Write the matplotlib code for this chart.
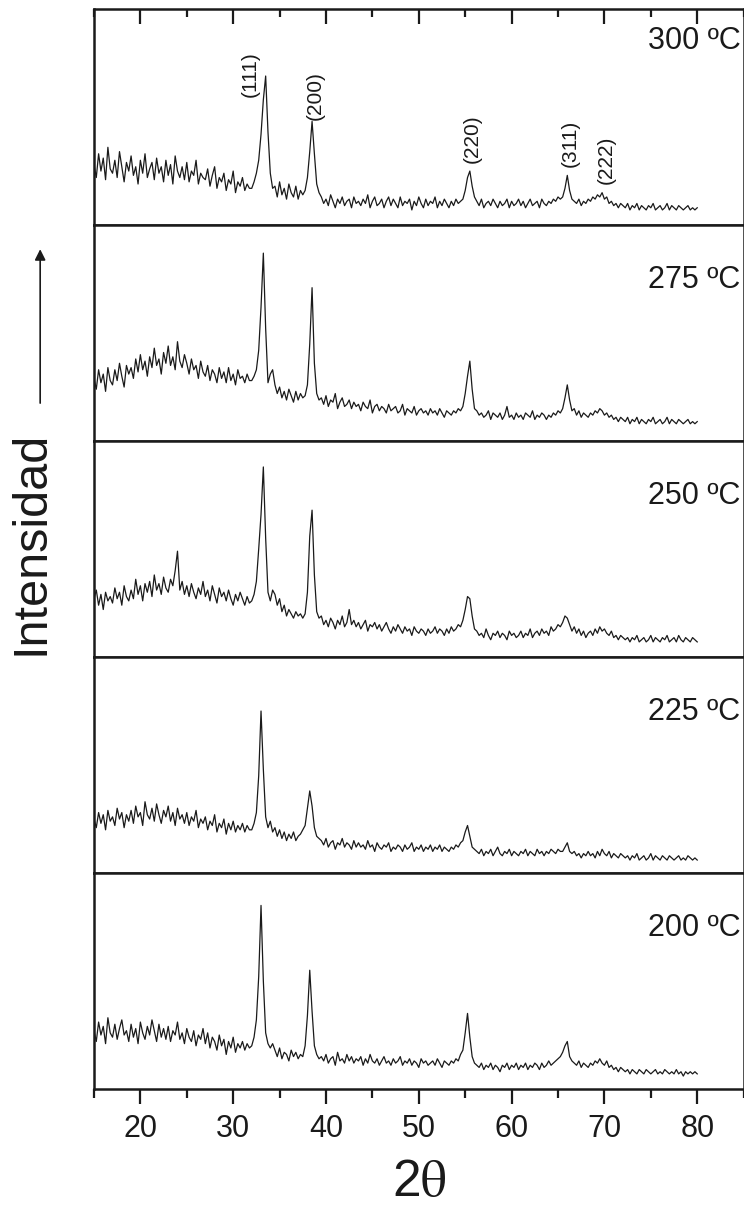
import numpy as np
import matplotlib.pyplot as plt
from matplotlib.patches import FancyArrowPatch
from matplotlib.ticker import MultipleLocator

plt.rcParams['font.family'] = ['Liberation Sans', 'DejaVu Sans']
plt.rcParams['mathtext.fontset'] = 'stix'

# 2-theta sampling grid (deg): 0.25 deg steps from 15 to 80
two_theta = np.linspace(15, 80, 261)

temps = ['300 ºC', '275 ºC', '250 ºC', '225 ºC', '200 ºC']

# Intensities as % of panel height:
# background 15-31.75 | (111) | 34.5-37.5 | (200) | 39.5-54.5 | (220) | 56.25-65.25 | (311) | 66.75-80
i_300 = ([28, 22, 33, 25, 31, 21, 36, 26, 24, 30, 22, 34, 27, 20, 29, 25,
          32, 23, 27, 19, 30, 24, 33, 22, 26, 29, 21, 31, 24, 27, 20, 30,
          23, 28, 19, 32, 25, 22, 27, 21, 29, 20, 25, 23, 30, 19, 24, 22,
          21, 26, 18, 23, 27, 17, 22, 20, 24, 16, 21, 19, 25, 15, 20, 18,
          22, 16, 19, 17]
         + [17, 20, 24, 30, 42, 58, 69, 43, 24, 17]
         + [18, 13, 20, 14, 17, 12, 19, 15, 13, 18, 12, 16, 14]
         + [16, 22, 34, 48, 33, 19, 15]
         + [13, 10, 12, 9, 14, 11, 8, 12, 10, 13, 9, 11, 12, 8, 13, 10,
            11, 9, 12, 10, 14, 8, 11, 13, 9, 10, 12, 8, 11, 13, 9, 12,
            10, 8, 13, 9, 11, 10, 12, 7, 11, 9, 13, 10, 8, 12, 9, 11,
            10, 13, 8, 11, 9, 12, 10, 8, 11, 9, 12, 10, 11]
         + [12, 16, 22, 25, 18, 13]
         + [11, 9, 12, 8, 10, 11, 9, 12, 10, 8, 11, 9, 10, 12, 8, 11, 9, 10,
            12, 9, 11, 8, 10, 12, 9, 10, 11, 8, 12, 10, 9, 11, 10, 12, 11, 13, 12]
         + [13, 17, 23, 16, 12]
         + [11, 10, 12, 9, 11, 10, 12, 11, 13, 12, 14, 13, 15, 12, 13, 10, 11, 9, 10, 8, 10, 9,
            8, 10, 7, 9, 8, 10, 7, 9, 8, 7, 9, 8, 10, 7, 8, 9, 7, 8, 10, 7, 9, 8, 7, 9, 8, 7, 8, 9, 7, 8, 7, 8])

i_275 = ([29, 24, 33, 27, 31, 23, 34, 28, 26, 33, 28, 36, 30, 25, 35, 31,
          34, 29, 38, 32, 40, 33, 37, 30, 39, 34, 43, 35, 38, 31, 41, 36,
          44, 35, 39, 33, 46, 37, 34, 40, 36, 31, 38, 33, 35, 29, 37, 32,
          30, 35, 28, 33, 31, 27, 34, 29, 32, 27, 34, 28, 31, 26, 33, 29,
          30, 27, 31, 28]
         + [28, 30, 33, 42, 62, 87, 52, 27, 31, 33]
         + [26, 22, 25, 20, 23, 19, 24, 21, 18, 23, 19, 22, 20]
         + [21, 26, 45, 71, 36, 22, 19]
         + [20, 17, 21, 16, 19, 18, 22, 15, 18, 20, 16, 17, 19, 15, 18, 16,
            17, 14, 18, 16, 15, 19, 13, 16, 17, 14, 16, 15, 13, 17, 14, 15,
            16, 13, 14, 17, 12, 15, 14, 13, 16, 12, 14, 15, 13, 14, 12, 15,
            13, 14, 12, 15, 13, 11, 14, 13, 12, 14, 13, 15, 14]
         + [16, 22, 30, 37, 24, 15]
         + [14, 12, 13, 11, 12, 14, 10, 13, 12, 11, 13, 10, 12, 16, 11, 12, 10, 13,
            11, 12, 10, 13, 12, 11, 14, 10, 12, 11, 13, 12, 10, 12, 11, 13, 12, 14, 13]
         + [15, 20, 26, 19, 14]
         + [15, 12, 14, 11, 13, 12, 11, 13, 12, 14, 13, 15, 14, 12, 13, 11, 12, 10, 11, 9, 11, 10,
            9, 11, 8, 10, 9, 11, 8, 10, 9, 8, 10, 9, 11, 8, 9, 10, 8, 9, 11, 8, 10, 9, 8, 10, 9, 8, 9, 10, 8, 9, 8, 9])

i_250 = ([27, 31, 24, 29, 22, 30, 26, 28, 25, 32, 27, 30, 24, 33, 28, 26,
          31, 27, 36, 29, 33, 26, 34, 30, 35, 28, 38, 31, 34, 29, 37, 32,
          30, 36, 33, 40, 49, 31, 35, 29, 33, 28, 34, 30, 27, 32, 29, 35,
          28, 31, 26, 33, 29, 25, 32, 28, 30, 26, 31, 27, 24, 29, 26, 30,
          27, 24, 28, 25]
         + [26, 29, 35, 50, 66, 88, 55, 30, 26, 31]
         + [29, 24, 27, 21, 24, 19, 22, 20, 18, 21, 19, 20, 18]
         + [20, 30, 56, 68, 38, 21, 18]
         + [19, 15, 17, 14, 18, 16, 13, 17, 15, 19, 14, 16, 22, 15, 17, 14,
            16, 13, 15, 17, 12, 15, 14, 16, 13, 15, 12, 14, 16, 13, 11, 14,
            12, 15, 13, 11, 14, 12, 13, 10, 14, 12, 11, 13, 12, 10, 13, 11,
            12, 14, 11, 13, 12, 10, 13, 11, 14, 12, 13, 15, 14]
         + [17, 22, 28, 27, 19, 13]
         + [12, 10, 11, 9, 13, 10, 8, 11, 10, 12, 9, 11, 10, 8, 12, 10, 11, 9,
            10, 12, 9, 11, 10, 13, 9, 11, 12, 10, 13, 11, 12, 10, 14, 12, 13, 15, 14]
         + [16, 19, 18, 15, 12]
         + [14, 11, 13, 10, 12, 9, 11, 12, 10, 13, 11, 14, 12, 13, 11, 10, 12, 9, 10, 8, 10, 9,
            8, 9, 7, 9, 8, 10, 7, 8, 9, 7, 8, 10, 7, 9, 8, 7, 9, 8, 10, 7, 8, 9, 7, 10, 8, 7, 9, 8, 7, 9, 8, 7])

i_225 = ([25, 21, 28, 23, 27, 20, 29, 24, 26, 22, 30, 25, 28, 21, 27, 24,
          29, 23, 31, 26, 28, 22, 33, 27, 25, 30, 24, 32, 27, 23, 29, 26,
          31, 24, 28, 22, 30, 25, 27, 23, 28, 22, 26, 24, 29, 21, 25, 23,
          26, 20, 24, 22, 27, 19, 23, 21, 25, 18, 23, 20, 24, 19, 22, 20,
          23, 19, 22, 20]
         + [20, 23, 28, 45, 75, 48, 26, 21, 24, 19]
         + [21, 17, 20, 16, 19, 15, 18, 16, 19, 15, 17, 18, 20]
         + [22, 30, 38, 31, 21, 17, 16]
         + [15, 13, 16, 12, 14, 15, 11, 14, 13, 16, 12, 14, 13, 11, 15, 12,
            14, 12, 13, 11, 15, 12, 13, 10, 14, 12, 11, 13, 12, 14, 10, 12,
            11, 13, 12, 10, 13, 11, 12, 14, 10, 12, 11, 13, 10, 12, 11, 13,
            10, 12, 11, 13, 10, 12, 11, 10, 12, 11, 13, 12, 14]
         + [15, 19, 22, 17, 12, 11]
         + [10, 9, 11, 8, 10, 9, 11, 8, 10, 12, 9, 8, 10, 9, 11, 8, 10, 9,
            8, 10, 9, 11, 8, 10, 9, 8, 11, 9, 10, 8, 10, 9, 11, 10, 9, 11, 10]
         + [10, 12, 14, 10, 9]
         + [10, 8, 9, 7, 9, 8, 10, 8, 9, 7, 10, 8, 11, 9, 8, 10, 7, 9, 8, 7, 9, 8,
            7, 8, 6, 8, 7, 9, 6, 7, 8, 6, 7, 9, 6, 8, 7, 6, 8, 7, 6, 8, 7, 6, 7, 8, 6, 7, 6, 8, 7, 6, 7, 6])

i_200 = ([27, 22, 31, 25, 29, 21, 33, 26, 24, 30, 23, 28, 32, 25, 27, 22,
          30, 24, 28, 21, 31, 26, 23, 29, 25, 32, 27, 22, 30, 24, 28, 23,
          29, 22, 27, 25, 31, 23, 26, 21, 28, 24, 22, 27, 20, 25, 23, 28,
          21, 26, 19, 24, 22, 18, 25, 20, 23, 16, 22, 19, 24, 17, 21, 19,
          22, 18, 21, 19]
         + [20, 24, 32, 52, 85, 50, 26, 21, 19, 21]
         + [18, 15, 19, 14, 17, 16, 13, 18, 15, 17, 14, 16, 15]
         + [20, 34, 55, 36, 20, 16, 14]
         + [15, 13, 16, 12, 14, 15, 11, 17, 13, 14, 12, 16, 13, 15, 12, 14,
            13, 15, 11, 14, 12, 16, 13, 12, 14, 11, 13, 15, 12, 13, 11, 14,
            12, 13, 15, 11, 13, 12, 14, 11, 13, 12, 10, 14, 12, 13, 11, 12,
            13, 11, 14, 12, 10, 13, 12, 11, 13, 12, 14, 13, 16]
         + [18, 26, 35, 24, 15, 12]
         + [11, 10, 12, 9, 11, 10, 12, 9, 11, 10, 8, 11, 10, 12, 9, 11, 10, 12,
            9, 11, 10, 12, 9, 11, 10, 12, 11, 9, 12, 10, 11, 13, 11, 12, 13, 14, 15]
         + [17, 20, 22, 15, 13]
         + [12, 11, 13, 10, 12, 11, 10, 12, 11, 13, 12, 14, 12, 11, 13, 10, 11, 9, 10, 8, 10, 9,
            8, 9, 7, 9, 8, 7, 9, 8, 7, 9, 8, 7, 8, 9, 7, 8, 7, 9, 8, 7, 8, 7, 9, 7, 8, 6, 8, 7, 8, 7, 8, 7])

patterns = [i_300, i_275, i_250, i_225, i_200]
for p in patterns:
    assert len(p) == len(two_theta), len(p)

# Miller indices marked on the top scan: label, 2theta position, height (axes fraction)
hkl_labels = ['(111)', '(200)', '(220)', '(311)', '(222)']
hkl_pos = [31.8, 38.8, 55.8, 66.3, 70.2]
hkl_height = [0.70, 0.60, 0.40, 0.38, 0.30]

ink = '#1a1a1a'

fig = plt.figure(figsize=(7.44, 12.08), dpi=100)
gs = fig.add_gridspec(5, 1, left=0.1263, right=0.9995, bottom=0.0985, top=0.9925, hspace=0)
axes = [fig.add_subplot(gs[k]) for k in range(5)]

for k, ax in enumerate(axes):
    ax.plot(two_theta, patterns[k], color=ink, lw=0.9)
    ax.set_xlim(15, 85)
    ax.set_ylim(0, 100)
    ax.set_yticks([])
    for s in ax.spines.values():
        s.set_linewidth(1.8)
        s.set_color(ink)
    ax.xaxis.set_major_locator(MultipleLocator(10))
    ax.xaxis.set_minor_locator(MultipleLocator(5))
    ypos = 0.85 if k == 0 else 0.745
    ax.text(0.995, ypos, temps[k], transform=ax.transAxes, ha='right', va='center',
            fontsize=22, color=ink)
    if k == 0:
        ax.tick_params(axis='x', which='both', bottom=False, top=True, direction='in',
                       labelbottom=False, width=1.6, color=ink)
        ax.tick_params(axis='x', which='major', length=11)
        ax.tick_params(axis='x', which='minor', length=6)
    elif k == 4:
        ax.tick_params(axis='x', which='both', bottom=True, top=False, direction='out',
                       labelsize=22, labelcolor=ink, width=1.6, color=ink, pad=7)
        ax.tick_params(axis='x', which='major', length=11)
        ax.tick_params(axis='x', which='minor', length=6.5)
    else:
        ax.tick_params(axis='x', which='both', bottom=False, top=False, labelbottom=False)

for lab, xp, yp in zip(hkl_labels, hkl_pos, hkl_height):
    axes[0].text(xp, yp, lab, transform=axes[0].get_xaxis_transform(), rotation=90,
                 ha='center', va='center', fontsize=15, color=ink)

axes[4].set_xlabel(r'2$\mathrm{\theta}$', fontsize=37, color=ink, labelpad=10)

# vertical axis title with its arrow
fig.text(0.042, 0.551, 'Intensidad', rotation=90, ha='center', va='center',
         fontsize=35, color=ink)
fig.add_artist(FancyArrowPatch(
    (0.054, 0.664), (0.054, 0.796), transform=fig.transFigure,
    arrowstyle='-|>', mutation_scale=16, lw=1.2, color=ink))

fig.savefig('out.png', dpi=100, facecolor='white')
